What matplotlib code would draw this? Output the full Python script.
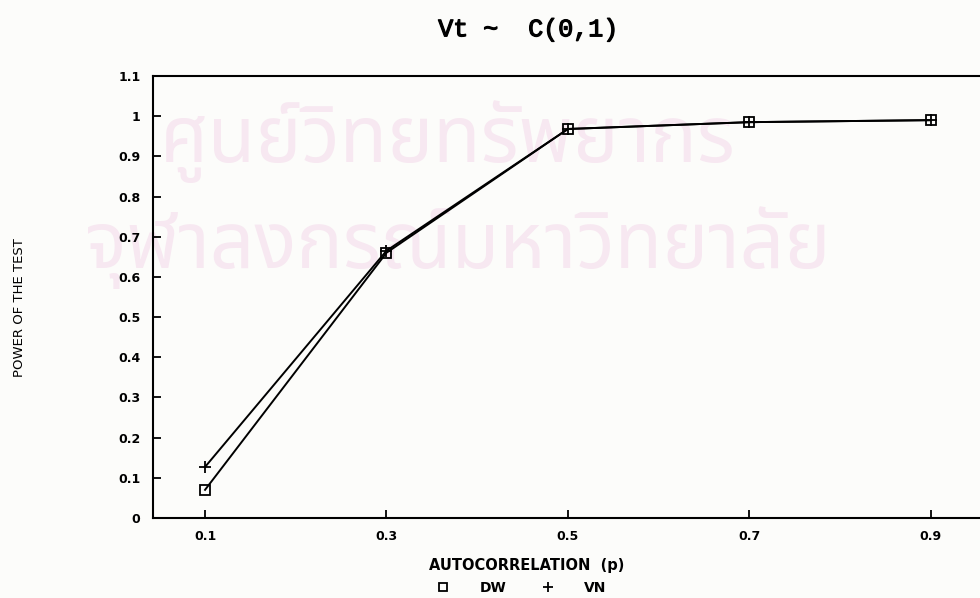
import matplotlib.pyplot as plt
import matplotlib.patheffects as pe
from matplotlib.lines import Line2D

# Potencia de las pruebas DW y VN para distintos valores de autocorrelacion
rho = [0.1, 0.3, 0.5, 0.7, 0.9]
power_dw = [0.07, 0.66, 0.968, 0.985, 0.99]
power_vn = [0.127, 0.665, 0.968, 0.985, 0.99]
yticks = [0, 0.1, 0.2, 0.3, 0.4, 0.5, 0.6, 0.7, 0.8, 0.9, 1, 1.1]
ytick_labels = ['0', '0.1', '0.2', '0.3', '0.4', '0.5', '0.6', '0.7', '0.8', '0.9', '1', '1.1']

fig = plt.figure(figsize=(9.8, 5.98), dpi=100)
fig.patch.set_facecolor('#fcfcfa')

# Marca de agua en tono rosado, por debajo de los ejes
thai = ['Noto Sans Thai', 'Noto Sans', 'DejaVu Sans']
fig.text(0.163, 0.729, 'ศูนย์วิทยทรัพยากร', ha='left', va='baseline', fontsize=56,
         fontweight='bold', color='#f7e8f1', family=thai, zorder=-1)
fig.text(0.087, 0.552, 'จุฬาลงกรณ์มหาวิทยาลัย', ha='left', va='baseline', fontsize=56,
         fontweight='bold', color='#f7e8f1', family=thai, zorder=-1)

ax = fig.add_axes([0.156, 0.1338, 0.847, 0.7392])
ax.patch.set_alpha(0)

ax.plot(rho, power_dw, color='black', lw=1.4, marker='s', ms=6.5,
        mfc='none', mec='black', mew=1.3)
ax.plot(rho, power_vn, color='black', lw=1.4, marker='+', ms=8,
        mec='black', mew=1.3)

ax.set_xlim(0.0425, 0.9575)
ax.set_ylim(0, 1.1)
ax.set_xticks(rho)
ax.set_xticklabels(['0.1', '0.3', '0.5', '0.7', '0.9'])
ax.set_yticks(yticks)
ax.set_yticklabels(ytick_labels)
ax.tick_params(direction='in', length=6, width=1.3, labelsize=9, pad=9)
for lbl in ax.get_xticklabels() + ax.get_yticklabels():
    lbl.set_fontweight('bold')
for s in ax.spines.values():
    s.set_linewidth(1.5)

fig.text(0.539, 0.951, 'Vt ~  C(0,1)', ha='center', va='center',
         fontsize=18, family='Liberation Mono',
         path_effects=[pe.withStroke(linewidth=0.9, foreground='black')])
fig.text(0.02, 0.486, 'POWER OF THE TEST', rotation=90, ha='center', va='center',
         fontsize=9.5)
fig.text(0.537, 0.055, 'AUTOCORRELATION  (p)', ha='center', va='center',
         fontsize=10.5, fontweight='bold')

handles = [Line2D([], [], ls='none', marker='s', ms=6, mfc='none', mec='black', mew=1.3),
           Line2D([], [], ls='none', marker='+', ms=7, mec='black', mew=1.3)]
fig.legend(handles, ['DW', 'VN'], loc='center', bbox_to_anchor=(0.532, 0.017), ncol=2,
           frameon=False, handlelength=1, handletextpad=2.1, columnspacing=2.5,
           borderpad=0, prop={'weight': 'bold', 'size': 10})

fig.savefig('out.png', dpi=100, facecolor=fig.get_facecolor())
